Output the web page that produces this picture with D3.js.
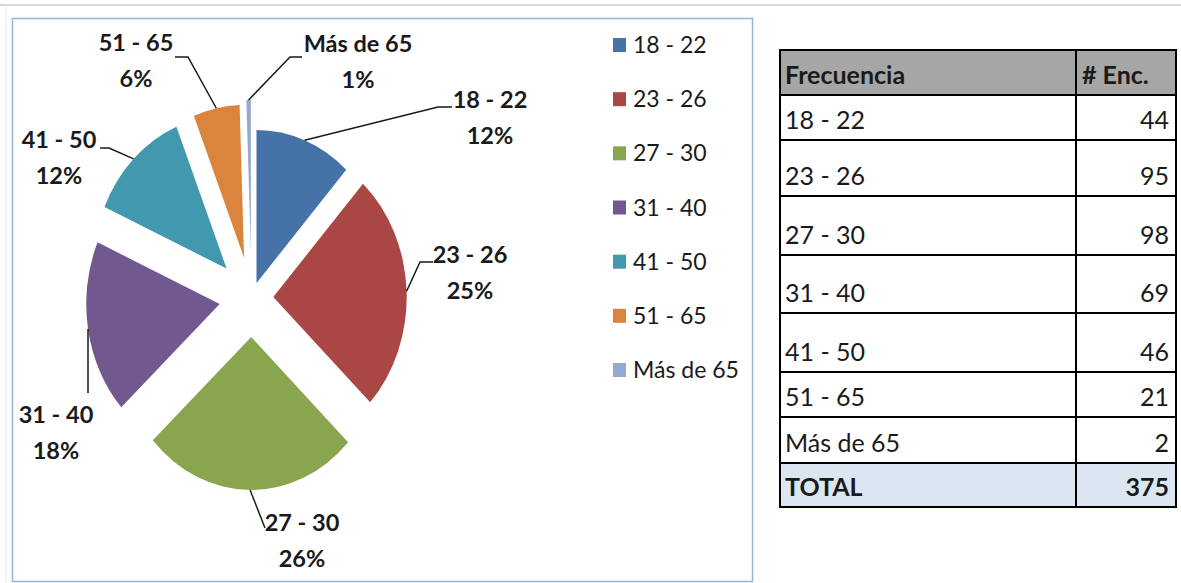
<!DOCTYPE html>
<html>
<head>
<meta charset="utf-8">
<script src="https://cdn.jsdelivr.net/npm/d3@7"></script>
<style>
  body { margin: 0; background: #fff; }
  text { font-family: Lato, "Open Sans", sans-serif; fill: #1a1a1a; }
</style>
</head>
<body>
<svg id="chart" width="1181" height="583"></svg>
<script>
// data
var categories = ["18 - 22", "23 - 26", "27 - 30", "31 - 40", "41 - 50", "51 - 65", "Más de 65"];
var encuestas = [44, 95, 98, 69, 46, 21, 2];
var tableHeader = ["Frecuencia", "# Enc."];
var totalLabel = "TOTAL";

var colors = ["#4572A7", "#AA4643", "#89A54E", "#71588F", "#4198AF", "#DB843D", "#93A9CF"];

// layout (style only)
var explode = [16, 25, 39, 37, 41, 41, 45];
var labelPos = [
    {x: 490, y: 100, ex: 438, ey: 107, hx: 452},
    {x: 470, y: 255, ex: 420, ey: 262, hx: 433},
    {x: 302, y: 523, ex: 265, ey: 528, hx: 265},
    {x: 56,  y: 415, ex: 88,  ey: 393, hx: 88},
    {x: 59,  y: 140, ex: 109, ey: 148, hx: 100},
    {x: 136, y: 43,  ex: 188, ey: 57,  hx: 175},
    {x: 358, y: 44,  ex: 290, ey: 57,  hx: 302}
];
var rowHeights = [45, 45, 56, 59, 58, 59, 45, 46, 44];

var svg = d3.select("#chart");

// page lines
svg.append("line").attr("x1", 0).attr("x2", 1181).attr("y1", 5).attr("y2", 5)
    .attr("stroke", "#d9d9d9").attr("stroke-width", 2);
svg.append("line").attr("x1", 6).attr("x2", 6).attr("y1", 5).attr("y2", 583)
    .attr("stroke", "#e6e6e6").attr("stroke-width", 1);

// chart area
svg.append("rect").attr("x", 12.5).attr("y", 18.5).attr("width", 740).attr("height", 563)
    .attr("fill", "#fff").attr("stroke", "#95b3d7").attr("stroke-width", 1.5);

var cx = 251.5, cy = 298, R = 153, sx = 0.872;

var pie = d3.pie().sort(null).value(function (d) { return d; });
var arcs = pie(encuestas);
var total = d3.sum(encuestas);
var pct = d3.format(".0%");

var arc = d3.arc().innerRadius(0).outerRadius(R);

var pieG = svg.append("g")
    .attr("transform", "translate(" + cx + "," + cy + ") scale(" + sx + ",1)");

pieG.selectAll("path")
    .data(arcs)
    .enter().append("path")
    .attr("d", arc)
    .attr("fill", function (d, i) { return colors[i]; })
    .attr("transform", function (d, i) {
        var a = (d.startAngle + d.endAngle) / 2;
        return "translate(" + (explode[i] * Math.sin(a)) + "," + (-explode[i] * Math.cos(a)) + ")";
    });

// leader lines
arcs.forEach(function (d, i) {
    var a = (d.startAngle + d.endAngle) / 2;
    var r = explode[i] + R;
    var px = cx + r * Math.sin(a) * sx;
    var py = cy - r * Math.cos(a);
    var l = labelPos[i];
    svg.append("path")
        .attr("d", d3.line()([[px, py], [l.ex, l.ey], [l.hx, l.ey]]))
        .attr("fill", "none").attr("stroke", "#1a1a1a").attr("stroke-width", 1.5);
});

// data labels
var labels = svg.append("g").selectAll("g")
    .data(arcs)
    .enter().append("g")
    .attr("font-weight", "bold")
    .attr("font-size", 23.5)
    .attr("text-anchor", "middle");

labels.append("text")
    .attr("x", function (d, i) { return labelPos[i].x; })
    .attr("y", function (d, i) { return labelPos[i].y; })
    .attr("dy", "0.35em")
    .text(function (d, i) { return categories[i]; });

labels.append("text")
    .attr("x", function (d, i) { return labelPos[i].x; })
    .attr("y", function (d, i) { return labelPos[i].y + 36; })
    .attr("dy", "0.35em")
    .text(function (d) { return pct(d.value / total); });

// legend
var legendY = d3.scalePoint().domain(categories).range([45, 370]);
var legend = svg.append("g").selectAll("g")
    .data(categories)
    .enter().append("g")
    .attr("transform", function (d) { return "translate(613," + legendY(d) + ")"; });

legend.append("rect")
    .attr("x", 0).attr("y", -7).attr("width", 13).attr("height", 14)
    .attr("fill", function (d, i) { return colors[i]; });

legend.append("text")
    .attr("x", 20).attr("dy", "0.35em")
    .attr("font-size", 23)
    .text(function (d) { return d; });

// table
var tx0 = 780, tx1 = 1076, tx2 = 1176, ty0 = 50;
var rows = [tableHeader].concat(categories.map(function (c, i) { return [c, encuestas[i]]; }))
    .concat([[totalLabel, total]]);

var ys = [ty0];
rowHeights.forEach(function (h) { ys.push(ys[ys.length - 1] + h); });

var table = svg.append("g");

table.selectAll("rect.row")
    .data(rows)
    .enter().append("rect")
    .attr("class", "row")
    .attr("x", tx0).attr("width", tx2 - tx0)
    .attr("y", function (d, i) { return ys[i]; })
    .attr("height", function (d, i) { return rowHeights[i]; })
    .attr("fill", function (d, i) {
        if (i === 0) return "#a6a6a6";
        if (i === rows.length - 1) return "#dce6f1";
        return "#fff";
    })
    .attr("stroke", "#000").attr("stroke-width", 2);

table.append("line")
    .attr("x1", tx1).attr("x2", tx1).attr("y1", ty0).attr("y2", ys[ys.length - 1])
    .attr("stroke", "#000").attr("stroke-width", 2);

table.selectAll("text.c1")
    .data(rows)
    .enter().append("text")
    .attr("class", "c1")
    .attr("x", 785)
    .attr("y", function (d, i) { return ys[i + 1] - 11; })
    .attr("font-size", 25)
    .attr("font-weight", function (d, i) { return (i === 0 || i === rows.length - 1) ? "bold" : "normal"; })
    .text(function (d) { return d[0]; });

table.selectAll("text.c2")
    .data(rows)
    .enter().append("text")
    .attr("class", "c2")
    .attr("x", function (d, i) { return i === 0 ? 1082 : 1169; })
    .attr("y", function (d, i) { return ys[i + 1] - 11; })
    .attr("font-size", 25)
    .attr("text-anchor", function (d, i) { return i === 0 ? "start" : "end"; })
    .attr("font-weight", function (d, i) { return (i === 0 || i === rows.length - 1) ? "bold" : "normal"; })
    .text(function (d) { return d[1]; });
</script>
</body>
</html>
